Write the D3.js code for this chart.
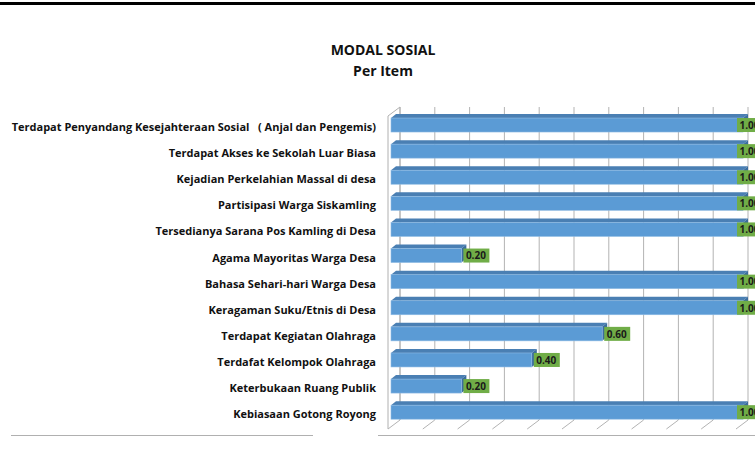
<!DOCTYPE html>
<html>
<head>
<meta charset="utf-8">
<script src="https://cdn.jsdelivr.net/npm/d3@7"></script>
<style>
  body { margin: 0; background: #fff; }
  svg { display: block; font-family: "Open Sans", Lato, sans-serif; }
</style>
</head>
<body>
<svg id="chart" width="755" height="464"></svg>
<script>
const categories = [
    'Terdapat Penyandang Kesejahteraan Sosial   ( Anjal dan Pengemis)',
    'Terdapat Akses ke Sekolah Luar Biasa',
    'Kejadian Perkelahian Massal di desa',
    'Partisipasi Warga Siskamling',
    'Tersedianya Sarana Pos Kamling di Desa',
    'Agama Mayoritas Warga Desa',
    'Bahasa Sehari-hari Warga Desa',
    'Keragaman Suku/Etnis di Desa',
    'Terdapat Kegiatan Olahraga',
    'Terdafat Kelompok Olahraga',
    'Keterbukaan Ruang Publik',
    'Kebiasaan Gotong Royong'
];
const values = [1.00, 1.00, 1.00, 1.00, 1.00, 0.20, 1.00, 1.00, 0.60, 0.40, 0.20, 1.00];
const gridTicks = d3.range(0, 1.0001, 0.1);

const svg = d3.select('#chart');

// page rules
svg.append('rect').attr('x', 0).attr('y', 2).attr('width', 755).attr('height', 3).attr('fill', '#000');
svg.append('line').attr('x1', 11).attr('x2', 313).attr('y1', 435.5).attr('y2', 435.5)
    .attr('stroke', '#b0b0b0').attr('stroke-width', 1);
svg.append('line').attr('x1', 378).attr('x2', 755).attr('y1', 435.5).attr('y2', 435.5)
    .attr('stroke', '#b0b0b0').attr('stroke-width', 1);

// title
svg.append('text').attr('x', 383).attr('y', 55).attr('text-anchor', 'middle')
    .attr('font-size', 14).attr('font-weight', 'bold').attr('fill', '#111').text('MODAL SOSIAL');
svg.append('text').attr('x', 383).attr('y', 76).attr('text-anchor', 'middle')
    .attr('font-size', 14).attr('font-weight', 'bold').attr('fill', '#111').text('Per Item');

// 3d frame
const depth = { dx: 12, dy: -9 };
const wallTop = 116, wallBottom = 429, front0 = 388;
const xBack = d3.scaleLinear().domain([0, 1]).range([400, 748]);
const xFront = d3.scaleLinear().domain([0, 1]).range([391, 743]);
const y = d3.scaleBand().domain(categories).range([110.2, 427]).paddingInner(0.464).paddingOuter(0.3);

const frame = svg.append('g');
// left side wall
frame.append('path')
    .attr('d', `M${front0},${wallBottom} L${front0},${wallTop} L${front0 + depth.dx},${wallTop + depth.dy} L${front0 + depth.dx},${wallBottom + depth.dy}`)
    .attr('fill', 'none').attr('stroke', '#b0b0b0');
// back wall gridlines
frame.selectAll('line.grid')
    .data(gridTicks)
    .join('line')
        .attr('class', 'grid')
        .attr('x1', d => xBack(d)).attr('x2', d => xBack(d))
        .attr('y1', wallTop + depth.dy).attr('y2', wallBottom + depth.dy)
        .attr('stroke', '#b3b3b3');
// floor ticks
frame.selectAll('line.floor')
    .data(gridTicks)
    .join('line')
        .attr('class', 'floor')
        .attr('x1', d => xBack(d) - depth.dx).attr('x2', d => xBack(d))
        .attr('y1', wallBottom).attr('y2', wallBottom + depth.dy)
        .attr('stroke', '#b3b3b3');

// bars
const bd = { dx: 5, dy: -4 };
const bars = svg.append('g').selectAll('g.bar')
    .data(categories.map((c, i) => ({ c, v: values[i] })))
    .join('g')
        .attr('class', 'bar');

bars.append('path')
    .attr('d', d => {
        const x0 = xFront(0), x1 = xFront(d.v), y0 = y(d.c);
        return `M${x0},${y0} L${x0 + bd.dx},${y0 + bd.dy} L${x1 + bd.dx},${y0 + bd.dy} L${x1},${y0} Z`;
    })
    .attr('fill', '#4a7fb3');
bars.append('path')
    .attr('d', d => {
        const x1 = xFront(d.v), y0 = y(d.c), y1 = y0 + y.bandwidth();
        return `M${x1},${y0} L${x1 + bd.dx},${y0 + bd.dy} L${x1 + bd.dx},${y1 + bd.dy} L${x1},${y1} Z`;
    })
    .attr('fill', '#3b6d9e');
bars.append('rect')
    .attr('x', xFront(0))
    .attr('y', d => y(d.c))
    .attr('width', d => xFront(d.v) - xFront(0))
    .attr('height', y.bandwidth())
    .attr('fill', '#5b9bd5')
    .attr('stroke', '#8fbbe3').attr('stroke-width', 0.6);

// value labels
const lab = bars.append('g')
    .attr('transform', d => `translate(${Math.min(xFront(d.v) + 2, 737)}, ${y(d.c) + y.bandwidth() / 2})`);
lab.append('rect')
    .attr('x', 0).attr('y', -7).attr('width', 26).attr('height', 14)
    .attr('fill', '#70ad47');
lab.append('text')
    .attr('x', 2.5).attr('y', 3.8)
    .attr('font-size', 10).attr('font-weight', 'bold').attr('fill', '#1a1a1a')
    .text(d => d3.format('.2f')(d.v));

// category labels
svg.append('g').selectAll('text.cat')
    .data(categories)
    .join('text')
        .attr('class', 'cat')
        .attr('x', 376)
        .attr('y', d => y(d) + y.bandwidth() / 2 + 6)
        .attr('text-anchor', 'end')
        .attr('font-size', 11).attr('font-weight', 'bold').attr('fill', '#111')
        .attr('xml:space', 'preserve')
        .style('white-space', 'pre')
        .text(d => d);
</script>
</body>
</html>
